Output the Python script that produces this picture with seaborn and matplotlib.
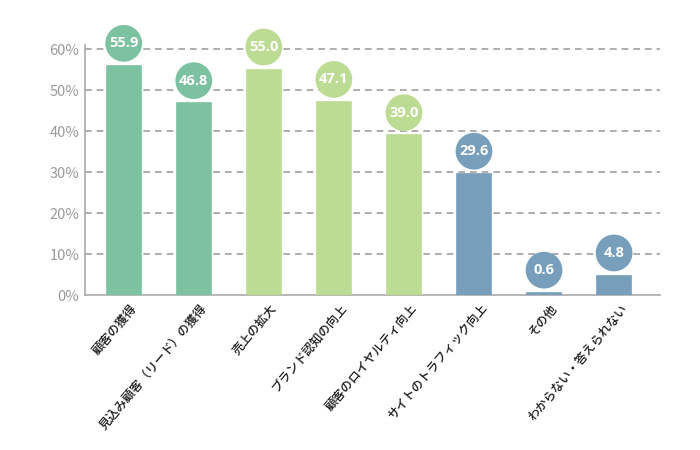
import matplotlib
matplotlib.use("Agg")
import matplotlib.pyplot as plt
import matplotlib.transforms as mtransforms
import seaborn as sns
import pandas as pd
import numpy as np

categories = ["顧客の獲得", "見込み顧客（リード）の獲得", "売上の拡大", "ブランド認知の向上",
              "顧客のロイヤルティ向上", "サイトのトラフィック向上", "その他", "わからない・答えられない"]
values = [55.9, 46.8, 55.0, 47.1, 39.0, 29.6, 0.6, 4.8]
groups = ["g1", "g1", "g2", "g2", "g2", "g3", "g3", "g3"]
palette = {"g1": "#7cc2a0", "g2": "#bddc93", "g3": "#779fbb"}
yticks = [0, 10, 20, 30, 40, 50, 60]

sns.set_theme(style="white")
plt.rcParams['font.family'] = ['Noto Sans CJK JP', 'DejaVu Sans']

df = pd.DataFrame({"cat": categories, "val": values, "grp": groups})

fig = plt.figure(figsize=(7, 4.5), dpi=100)
ax = fig.add_axes([0.121, 0.344, 0.822, 0.556])

sns.barplot(data=df, x="cat", y="val", hue="grp", palette=palette, dodge=False,
            width=0.49, legend=False, ax=ax, saturation=1, zorder=3)
for p, g in zip(ax.patches, groups):
    p.set_edgecolor(p.get_facecolor())
    p.set_linewidth(1.2)

ax.set_ylim(0, 61)
ax.set_xlim(-0.557, 7.657)
ax.set_yticks(yticks)
ax.set_yticklabels([f"{t}%" for t in yticks], color="#9a9a9a", fontsize=10.5)
for t in yticks[1:]:
    ax.axhline(t, color="#a0a0a0", lw=1.2, ls=(0, (4, 3)), zorder=1)

xs = np.arange(len(values))
cols = [palette[g] for g in groups]
ax.scatter(xs, np.array(values) + 5.5, s=700, c=cols, zorder=4, linewidths=0, clip_on=False)
for x, v in zip(xs, values):
    ax.text(x, v + 5.5, f"{v:.1f}", ha="center", va="center", color="white",
            fontsize=10.5, fontweight="bold", zorder=5, family=['Open Sans', 'DejaVu Sans'])

for s in ["top", "right"]:
    ax.spines[s].set_visible(False)
for s in ["left", "bottom"]:
    ax.spines[s].set_color("#aaaaaa")
    ax.spines[s].set_linewidth(1.2)

ax.set_xlabel("")
ax.set_ylabel("")
ax.tick_params(axis="both", length=0, pad=4)
ax.set_xticks(xs)
ax.set_xticklabels(categories, rotation=50, ha="right", rotation_mode="anchor",
                   fontsize=8.8, color="#1a1a1a", fontweight="medium")
offset = mtransforms.ScaledTranslation(6 / 100, -1 / 100, fig.dpi_scale_trans)
for lab in ax.get_xticklabels():
    lab.set_transform(lab.get_transform() + offset)

fig.savefig("out.png", dpi=100)
